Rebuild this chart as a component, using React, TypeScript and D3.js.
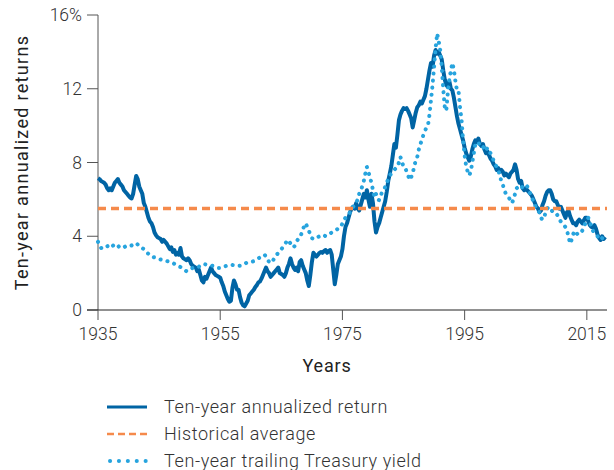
import * as d3 from "d3";

// quarterly values starting 1935.00
const START_YEAR = 1935;

const returnValues = [
  7.15, 7.1, 7.0, 6.95,
  6.9, 6.8, 6.6, 6.5,
  6.6, 6.5, 6.7, 6.9,
  7.0, 7.1, 6.9, 6.8,
  6.7, 6.5, 6.4, 6.3,
  6.2, 6.1, 6.05, 6.3,
  6.8, 7.27, 7.1, 6.7,
  6.5, 6.3, 5.8, 5.6,
  5.3, 5.0, 4.8, 4.7,
  4.5, 4.2, 4.05, 3.95,
  3.9, 3.85, 3.7, 3.8,
  3.7, 3.6, 3.45, 3.3,
  3.4, 3.15, 3.25, 3.0,
  3.1, 3.0, 3.36, 2.9,
  2.8, 2.75, 2.7, 2.8,
  2.7, 2.5, 2.4, 2.35,
  2.3, 2.1, 2.2, 1.9,
  1.6, 1.5, 1.8, 1.7,
  1.9, 2.1, 2.3, 2.1,
  2.0, 1.9, 1.85, 1.8,
  1.75, 1.5, 1.3, 1.0,
  0.8, 0.6, 0.45, 0.5,
  1.2, 1.6, 1.4, 1.1,
  1.1, 0.7, 0.4, 0.25,
  0.2, 0.35, 0.5, 0.8,
  0.9, 1.0, 1.1, 1.25,
  1.35, 1.5, 1.55, 1.7,
  1.9, 2.1, 2.3, 2.1,
  2.0, 1.8, 1.9, 2.0,
  2.1, 2.2, 2.3, 2.0,
  1.95, 1.9, 1.8, 2.0,
  2.3, 2.5, 2.8, 2.5,
  2.3, 2.17, 2.3, 2.1,
  2.6, 2.7, 2.4, 2.2,
  2.0, 1.6, 1.3, 1.9,
  2.6, 3.1, 3.0, 2.9,
  3.0, 3.1, 3.15, 3.1,
  3.2, 3.25, 3.1, 3.2,
  3.25, 3.0, 2.2, 1.4,
  1.9, 2.5, 2.7, 2.9,
  3.3, 4.0, 4.5, 4.7,
  5.0, 5.3, 5.5, 5.6,
  5.5, 5.8, 5.5, 5.4,
  5.7, 6.0, 6.3, 6.1,
  6.5, 6.0, 5.6, 6.3,
  5.8, 4.8, 4.2, 4.5,
  4.7, 5.0, 5.3, 5.6,
  5.9, 6.4, 7.0, 7.4,
  7.8, 8.4, 9.0, 8.8,
  9.5, 10.3, 10.6, 10.8,
  10.95, 10.9, 10.95, 10.8,
  10.6, 10.4, 9.9, 10.3,
  10.7, 11.0, 11.1, 11.3,
  11.2, 11.4, 11.6, 12.0,
  12.5, 13.0, 13.4, 13.2,
  13.8, 14.1, 13.9, 14.0,
  13.8, 13.6, 13.0, 12.5,
  12.2, 12.1, 12.4, 12.0,
  11.9, 11.5, 11.0, 10.5,
  10.1, 9.8, 9.5, 9.2,
  8.8, 8.5, 8.3, 8.1,
  8.3, 8.7, 9.0, 9.2,
  9.1, 9.3, 9.0, 8.9,
  9.0, 8.7, 8.5, 8.6,
  8.4, 8.2, 8.1, 7.9,
  7.8, 7.6, 7.7, 7.5,
  7.6, 7.5, 7.3, 7.4,
  7.3, 7.2, 7.4, 7.5,
  7.6, 7.9, 7.6, 7.1,
  6.9, 7.0, 6.6, 6.5,
  6.6, 6.5, 6.4, 6.3,
  6.2, 6.0, 5.8, 5.6,
  5.5, 5.3, 5.4, 5.7,
  5.9, 6.2, 6.4, 6.5,
  6.5, 6.3, 6.0, 5.9,
  5.9, 5.7, 5.5, 5.6,
  5.4, 5.2, 5.0, 5.3,
  5.4, 5.1, 4.9, 4.7,
  4.7, 4.6, 4.8, 4.9,
  4.8, 4.7, 4.85, 5.0,
  5.0, 4.8, 4.6, 4.5,
  4.5, 4.6, 4.4, 4.1,
  3.9, 3.8, 4.0, 3.85,
  3.96,
];

const treasuryValues = [
  3.7, 3.5, 3.36, 3.4,
  3.36, 3.4, 3.45, 3.5,
  3.4, 3.45, 3.5, 3.55,
  3.58, 3.5, 3.4, 3.36,
  3.36, 3.4, 3.45, 3.47,
  3.5, 3.47, 3.5, 3.55,
  3.6, 3.63, 3.55, 3.45,
  3.4, 3.36, 3.3, 3.2,
  3.1, 3.05, 3.0, 2.9,
  2.87, 2.85, 2.8, 2.78,
  2.76, 2.74, 2.72, 2.7,
  2.68, 2.66, 2.63, 2.6,
  2.58, 2.55, 2.5, 2.45,
  2.4, 2.37, 2.33, 2.28,
  2.22, 2.15, 2.1, 2.15,
  2.2, 2.25, 2.28, 2.3,
  2.28, 2.3, 2.35, 2.4,
  2.45, 2.5, 2.48, 2.46,
  2.45, 2.44, 2.42, 2.4,
  2.36, 2.33, 2.3, 2.28,
  2.28, 2.3, 2.33, 2.36,
  2.4, 2.42, 2.44, 2.44,
  2.44, 2.42, 2.4, 2.39,
  2.39, 2.4, 2.42, 2.45,
  2.5, 2.55, 2.58, 2.6,
  2.6, 2.62, 2.65, 2.7,
  2.75, 2.8, 2.85, 2.9,
  2.95, 3.0, 2.9, 2.75,
  2.6, 2.55, 2.6, 2.75,
  2.85, 3.0, 3.1, 3.2,
  3.3, 3.4, 3.5, 3.65,
  3.8, 3.75, 3.6, 3.45,
  3.4, 3.5, 3.7, 3.85,
  3.9, 4.1, 4.3, 4.6,
  4.7, 4.5, 4.3, 4.1,
  3.9, 3.85, 3.9, 3.96,
  3.96, 4.0, 3.98, 4.0,
  4.05, 4.0, 4.05, 4.1,
  4.15, 4.2, 4.25, 4.3,
  4.35, 4.4, 4.45, 4.5,
  4.7, 4.9, 5.0, 5.1,
  5.2, 5.3, 5.45, 5.6,
  5.7, 5.8, 6.0, 6.3,
  6.5, 6.7, 7.0, 7.4,
  7.76, 7.5, 7.2, 6.9,
  6.5, 6.1, 6.3, 6.0,
  5.96, 6.2, 6.4, 6.5,
  6.67, 6.9, 7.1, 7.3,
  7.4, 7.5, 7.6, 7.7,
  7.76, 8.0, 8.3, 8.0,
  7.8, 7.76, 7.5, 7.3,
  7.05, 7.2, 7.4, 7.8,
  8.1, 8.3, 8.7, 9.0,
  9.2, 9.5, 9.7, 9.9,
  10.0, 10.6, 11.4, 12.2,
  13.2, 14.2, 15.0, 14.6,
  14.1, 13.2, 12.0, 11.0,
  10.8, 11.8, 12.5, 13.0,
  13.4, 13.0, 12.4, 11.9,
  11.9, 11.0, 10.3, 9.2,
  8.4, 7.8, 7.5, 7.3,
  7.5, 8.0, 8.5, 9.0,
  9.0, 9.1, 8.9, 8.8,
  8.8, 8.9, 8.7, 8.8,
  8.6, 8.5, 8.3, 8.1,
  7.9, 7.76, 7.6, 7.3,
  7.0, 6.8, 6.5, 6.3,
  6.2, 6.1, 5.9, 5.8,
  6.0, 6.3, 6.6, 6.67,
  6.7, 6.6, 6.7, 6.8,
  6.8, 6.7, 6.5, 6.3,
  6.1, 5.9, 5.7, 5.5,
  5.4, 5.3, 5.0, 4.9,
  5.0, 5.3, 5.5, 5.6,
  5.5, 5.4, 5.3, 5.25,
  5.25, 5.1, 4.9, 4.8,
  4.7, 4.6, 4.5, 4.3,
  4.0, 3.6, 3.8, 4.1,
  4.3, 4.2, 4.1, 4.2,
  4.2, 4.3, 4.5, 4.7,
  4.9, 5.0, 4.8, 4.5,
  4.3, 4.2, 4.1, 4.0,
  3.9, 3.8, 3.9, 3.85,
  3.9,
];

const historicalAverage = 5.5;

const xTicks = [1935, 1955, 1975, 1995, 2015];
const yTicks = [0, 4, 8, 12, 16];

const legendItems = [
  "Ten-year annualized return",
  "Historical average",
  "Ten-year trailing Treasury yield",
];

const DARK = "#0064a4";
const ORANGE = "#f58a4b";
const LIGHT = "#27a4de";
const AXIS = "#555";
const TEXT = "#333";
const FONT = "Roboto, 'Helvetica Neue', Arial, sans-serif";

export default function App() {
  const width = 614;
  const height = 470;
  const margin = { top: 15, left: 98, right: 7, bottom: 160 };

  const x = d3
    .scaleLinear()
    .domain([1935, 2018.3])
    .range([margin.left, width - margin.right]);
  const y = d3
    .scaleLinear()
    .domain([0, 16])
    .range([height - margin.bottom, margin.top]);

  const toPoints = (vals: number[]) =>
    vals.map((v, i) => [START_YEAR + i / 4, v] as [number, number]);

  const line = d3
    .line<[number, number]>()
    .x((d) => x(d[0]))
    .y((d) => y(d[1]))
    .curve(d3.curveLinear);

  const returnPath = line(toPoints(returnValues)) || "";
  const treasuryPath = line(toPoints(treasuryValues)) || "";

  const y0 = y(0);
  const x0 = x(1935);

  return (
    <svg width={width} height={height} style={{ position: "absolute", left: 0, top: 0 }}>
      {/* y axis */}
      <line x1={x0} x2={x0} y1={y(16)} y2={y0} stroke={AXIS} strokeWidth={1} />
      {yTicks.map((t) => (
        <g key={t}>
          <line x1={x0 - 11} x2={x0} y1={y(t)} y2={y(t)} stroke={AXIS} strokeWidth={1} />
          <text
            x={x0 - 16}
            y={y(t)}
            dy="0.35em"
            textAnchor="end"
            fontFamily={FONT}
            fontWeight={300}
            fontSize={17.5}
            fill={TEXT}
          >
            {t === 16 ? "16%" : t}
          </text>
        </g>
      ))}

      {/* x axis */}
      <line x1={x0 - 11} x2={width - margin.right} y1={y0} y2={y0} stroke="#222" strokeWidth={1} />
      {xTicks.map((t) => (
        <g key={t}>
          <line x1={x(t)} x2={x(t)} y1={y0} y2={y0 + 10} stroke={AXIS} strokeWidth={1} />
          <text
            x={x(t)}
            y={y0 + 30}
            textAnchor="middle"
            fontFamily={FONT}
            fontWeight={300}
            fontSize={17.5}
            fill={TEXT}
          >
            {t}
          </text>
        </g>
      ))}

      {/* axis titles */}
      <text
        transform={`translate(28, ${(y(16) + y0) / 2}) rotate(-90)`}
        textAnchor="middle"
        fontFamily={FONT}
        fontWeight={400}
        fontSize={18}
        letterSpacing={1.3}
        fill="#222"
      >
        Ten-year annualized returns
      </text>
      <text
        x={327}
        y={y0 + 62}
        textAnchor="middle"
        fontFamily={FONT}
        fontWeight={400}
        fontSize={18}
        letterSpacing={0.8}
        fill="#222"
      >
        Years
      </text>

      {/* series */}
      <path
        d={returnPath}
        fill="none"
        stroke={DARK}
        strokeWidth={4}
        strokeLinejoin="round"
      />
      <path
        d={treasuryPath}
        fill="none"
        stroke={LIGHT}
        strokeWidth={4}
        strokeLinecap="round"
        strokeDasharray="0.1 7"
      />
      <line
        x1={x0}
        x2={width - margin.right}
        y1={y(historicalAverage)}
        y2={y(historicalAverage)}
        stroke={ORANGE}
        strokeWidth={3.5}
        strokeDasharray="8 5"
      />

      {/* legend */}
      {legendItems.map((label, i) => {
        const ly = 407 + i * 27;
        return (
          <g key={label}>
            {i === 0 && (
              <line x1={107} x2={147} y1={ly} y2={ly} stroke={DARK} strokeWidth={3} />
            )}
            {i === 1 && (
              <line
                x1={107}
                x2={147}
                y1={ly}
                y2={ly}
                stroke={ORANGE}
                strokeWidth={2.5}
                strokeDasharray="7 4"
              />
            )}
            {i === 2 && (
              <line
                x1={110}
                x2={146}
                y1={ly}
                y2={ly}
                stroke={LIGHT}
                strokeWidth={4}
                strokeLinecap="round"
                strokeDasharray="0.1 8.8"
              />
            )}
            <text
              x={164}
              y={ly}
              dy="0.35em"
              fontFamily={FONT}
              fontWeight={300}
              fontSize={18}
              letterSpacing={0.6}
              fill={TEXT}
            >
              {label}
            </text>
          </g>
        );
      })}
    </svg>
  );
}
